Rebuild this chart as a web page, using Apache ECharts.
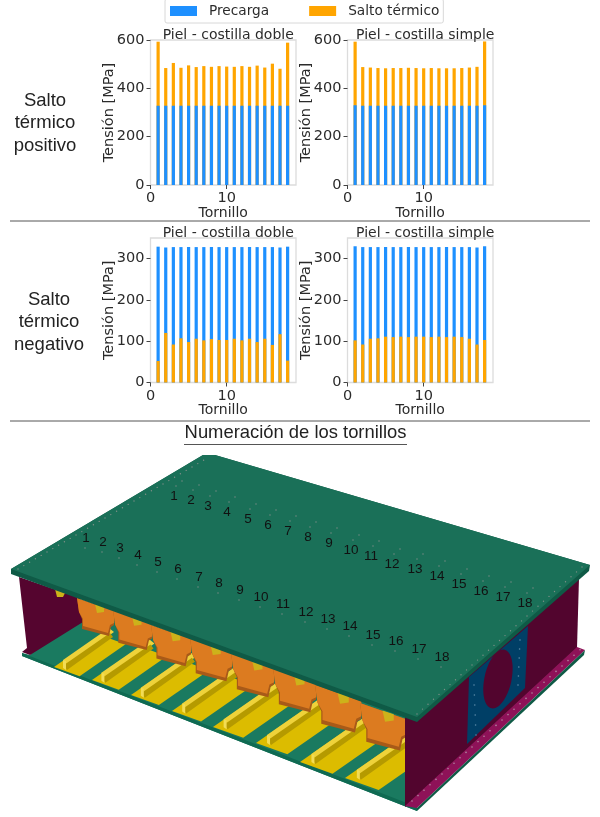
<!DOCTYPE html>
<html><head><meta charset="utf-8">
<style>html,body{margin:0;padding:0;background:#fff}#c{width:600px;height:817px;filter:blur(0.35px)}</style>
<script src="https://cdn.jsdelivr.net/npm/echarts@6/dist/echarts.min.js"></script>
</head><body><div id="c"></div>
<script>
const tornillos=[1,2,3,4,5,6,7,8,9,10,11,12,13,14,15,16,17,18];
const precargaPosDoble=[328,328,328,328,328,328,328,328,328,328,328,328,328,328,328,328,328,328];
const saltoPosDoble=[265,156,177,157,167,160,164,161,164,162,161,164,161,166,158,174,153,261];
const precargaPosSimple=[330,328,328,328,328,328,328,328,328,328,328,328,328,328,328,328,328,330];
const saltoPosSimple=[263,160,158,156,155,156,156,157,156,155,156,155,155,155,156,158,161,264];
const totalNegDoble=[329,327,328,328,328,328,328,328,328,328,328,328,328,328,328,328,327,329];
const saltoNegDoble=[52,120,92,107,98,106,102,105,103,103,106,102,106,98,106,91,117,53];
const totalNegSimple=[330,328,328,328,328,328,328,328,328,328,328,328,328,328,328,328,327,330];
const saltoNegSimple=[102,92,106,107,111,110,111,110,111,111,110,111,110,111,110,106,92,103];
const titulos=['Piel - costilla doble','Piel - costilla simple'];
const ticksPos=[0,200,400,600], ticksNeg=[0,100,200,300], ticksX=[0,10];

const BLUE='#1E90FF',ORANGE='#FFA500',TXT='#2b2b2b',FONT='"DejaVu Sans"';
const sum=(a,b)=>a.map((v,i)=>v+b[i]);
// each panel: taller bar drawn first, shorter bar in front of it
const panels=[
 {l:150.5,t:40,h:145,ymax:600,ticks:ticksPos,back:[sum(precargaPosDoble,saltoPosDoble),'Salto térmico',ORANGE],front:[precargaPosDoble,'Precarga',BLUE],title:titulos[0]},
 {l:347.5,t:40,h:145,ymax:600,ticks:ticksPos,back:[sum(precargaPosSimple,saltoPosSimple),'Salto térmico',ORANGE],front:[precargaPosSimple,'Precarga',BLUE],title:titulos[1]},
 {l:150.5,t:238,h:144.5,ymax:350,ticks:ticksNeg,back:[totalNegDoble,'Precarga',BLUE],front:[saltoNegDoble,'Salto térmico',ORANGE],title:titulos[0]},
 {l:347.5,t:238,h:144.5,ymax:350,ticks:ticksNeg,back:[totalNegSimple,'Precarga',BLUE],front:[saltoNegSimple,'Salto térmico',ORANGE],title:titulos[1]}
];
const W=145.5;
const grid=[],xAxis=[],yAxis=[],series=[],title=[];
panels.forEach((p,k)=>{
 grid.push({left:p.l,top:p.t,width:W,height:p.h,show:true,borderColor:'#dcdcdc',borderWidth:1.3,backgroundColor:'#fff'});
 xAxis.push({type:'value',gridIndex:k,min:0,max:19.1,splitLine:{show:false},axisLine:{show:false},
  axisTick:{length:4,lineStyle:{color:'#444',width:1},customValues:ticksX},
  axisLabel:{customValues:ticksX,color:TXT,fontFamily:FONT,fontSize:14.5,margin:6},
  name:'Tornillo',nameLocation:'middle',nameGap:21,nameMoveOverlap:false,nameTextStyle:{color:TXT,fontFamily:FONT,fontSize:14}});
 yAxis.push({type:'value',gridIndex:k,min:0,max:p.ymax,splitLine:{show:false},axisLine:{show:false},
  axisTick:{length:4,lineStyle:{color:'#444',width:1},customValues:p.ticks},
  axisLabel:{customValues:p.ticks,color:TXT,fontFamily:FONT,fontSize:14.5,margin:6},
  name:'Tensión [MPa]',nameLocation:'middle',nameGap:34,nameMoveOverlap:false,nameTextStyle:{color:TXT,fontFamily:FONT,fontSize:14.5}});
 [p.back,p.front].forEach(s=>series.push({type:'bar',name:s[1],xAxisIndex:k,yAxisIndex:k,barWidth:3.2,barGap:'-100%',
  itemStyle:{color:s[2]},silent:true,animation:false,data:s[0].map((v,i)=>[tornillos[i],v])}));
 title.push({text:p.title,left:p.l+W/2,top:p.t-17,textAlign:'center',textStyle:{color:TXT,fontFamily:FONT,fontSize:14,fontWeight:'normal',lineHeight:14}});
});

// ---- Illustration ----
const G=[];
const poly=(pts,fill,extra)=>G.push(Object.assign({type:'polygon',silent:true,shape:{points:pts},style:{fill:fill,stroke:null}},extra||{}));
const dot=(x,y,c,r)=>G.push({type:'circle',silent:true,shape:{cx:x,cy:y,r:r||0.7},style:{fill:c||'#7f8f88'}});
const label=(t,x,y,fs,fam,col)=>G.push({type:'text',silent:true,style:{text:t,x:x,y:y,fill:col||'#111',font:fs+'px '+(fam||'"Liberation Sans"'),textAlign:'center',textVerticalAlign:'middle',lineHeight:fs*1.22}});
const line=(x1,y1,x2,y2,c,w)=>G.push({type:'line',silent:true,shape:{x1,y1,x2,y2},style:{stroke:c,lineWidth:w}});

// side labels and rules
label('Salto\ntérmico\npositivo',45,123,18.5,null,'#222');
label('Salto\ntérmico\nnegativo',49,322,18.5,null,'#222');
line(10,221,590,221,'#555',1);
line(10,421,590,421,'#555',1);
label('Numeración de los tornillos',295.5,433,18.4,null,'#222');
line(184,444.5,407,444.5,'#555',1.2);

// floor
poly([[22,653],[30,655],[80,600],[405,715],[405,803],[417,806],[417,811],[22,656]],'#1a7a60');
poly([[22,653],[417,807],[417,811],[22,656]],'#0f6a52');
// back wall
poly([[19,577],[80,598],[83,622],[30,655],[22,652],[27,648]],'#55052f');
poly([[55,589],[65,593],[63,597],[57,597]],'#cdb21a');
// stringers
const stX=[54,92,131,172,213,256,300,345], stY=[667,680,695,711,727,743,762,778];
stX.forEach((x,i)=>{
 const y=stY[i], s=1+i*0.045, w=25.6*s, vx=46*s, vy=-32*s;
 poly([[x,y],[x+w,y+w*.36],[x+w+vx,y+w*.36+vy],[x+vx,y+vy]],'#dcbc00');
 const qx=x+9*s,qy=y-4*s;
 poly([[qx,qy-3],[qx+vx,qy-3+vy],[qx+vx+5,qy+vy+1],[qx+5,qy+2]],'#eed23a');
 poly([[qx+1,qy+2],[qx+vx+1,qy+2+vy],[qx+vx+4,qy+vy+6],[qx+4,qy+7]],'#b59a00');
 poly([[qx,qy-3],[qx+3,qy-2],[qx+3,qy+7],[qx,qy+5]],'#f2dc55');
});
// orange ribs
const ribX=[77,113,151,190,231,273,315,360], ribY=[598,610,625,638,653,668,685,703], ribW=[36,38,39,41,42,42,45,45];
ribX.forEach((x,i)=>{
 const s=ribW[i]/36, y=ribY[i];
 const P=(a,b)=>[x+a*s,y+b*s];
 poly([P(0,0),P(37,13),P(37,27),P(34,29),P(32,38),P(5,31),P(5,21),P(2,14)],'#a85a18');
 poly([P(0,0),P(37,13),P(37,25),P(33,27),P(31,35),P(6,28),P(6,21),P(2,14)],'#dc7b20');
 poly([P(18,6),P(27,9),P(27,14),P(20,15)],'#cdb21a');
});
// right wall, flange, panel
poly([[405,715],[579,578],[577,648],[405,807]],'#52052e');
poly([[469,677],[528,626],[525,688],[467,744]],'#003f66');
G.push({type:'ellipse',silent:true,x:498,y:679,rotation:-0.22,shape:{cx:0,cy:0,rx:13.5,ry:30},style:{fill:'#52052e'}});
poly([[405,806],[577,647],[585,650],[417,808]],'#8e1258');
poly([[417,808],[585,650],[584,655],[417,811]],'#0f5a46');
// top plate
poly([[203,455],[215,455],[590,565],[589,571],[417,722],[11,574],[11,569]],'#0f5a46');
poly([[203,455],[215,455],[590,565],[417,717],[11,569]],'#1a7058');

// bolt holes along the edges
for(let i=0;i<=32;i++){dot(18+i*5.8,569-i*3.4);}
for(let i=0;i<=30;i++){dot(582-i*5.5,567+i*4.9);}
for(let i=0;i<=28;i++){dot(412+i*6,801-i*5.4,'#b08aa0',0.8);}
for(let i=0;i<6;i++){dot(474+i*0.4,685+i*10,'#5a8aa8',0.8);dot(520-i*0.4,640+i*9,'#5a8aa8',0.8);}

// bolt numbers
const filaA=[[174,496],[191,500],[208,506],[227,512],[248,519],[268,525],[288,531],[308,537],[329,543],[351,550],[371,556],[392,564],[415,569],[437,576],[459,584],[481,591],[503,597],[525,603]];
const filaB=[[86,538],[103,542],[120,548],[138,555],[158,562],[178,569],[199,577],[219,583],[240,590],[261,597],[283,604],[306,612],[328,619],[350,626],[373,635],[396,641],[419,649],[442,657]];
filaA.forEach((p,i)=>{dot(p[0]+2,p[1]-10);dot(p[0]+8,p[1]-15);label(tornillos[i]+'',p[0],p[1],13.5);});
filaB.forEach((p,i)=>{dot(p[0]-1,p[1]+10);label(tornillos[i]+'',p[0],p[1],13.5);});

const chart=echarts.init(document.getElementById('c'),null,{renderer:'canvas',width:600,height:817});
chart.setOption({animation:false,backgroundColor:'#fff',title,grid,xAxis,yAxis,series,
 legend:{show:true,left:165,top:-1,icon:'rect',itemWidth:27,itemHeight:10,itemGap:40,padding:[5,4,5,5],borderColor:'#d8d8d8',borderWidth:1,borderRadius:2,
  data:[{name:'Precarga'},{name:'Salto térmico'}],selectedMode:false,textStyle:{color:TXT,fontFamily:FONT,fontSize:13.7,padding:[0,0,0,7]}},
 graphic:{elements:G}});
</script></body></html>
